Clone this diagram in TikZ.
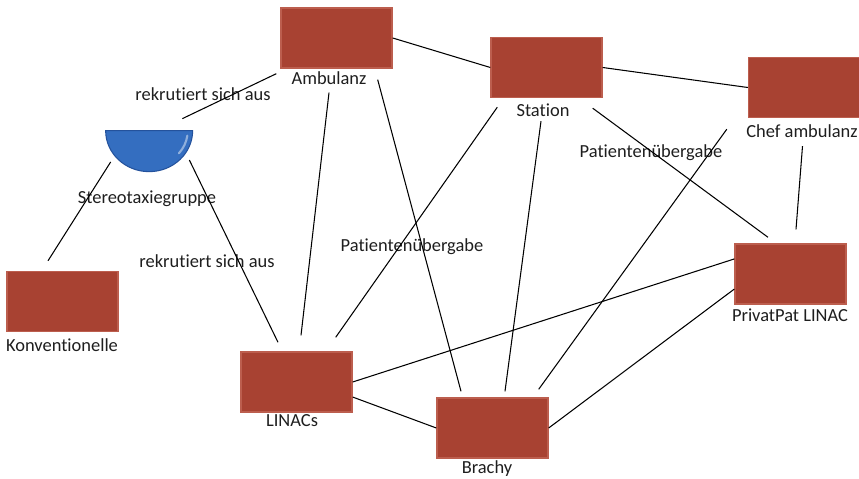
\documentclass[tikz,border=0pt]{standalone}
\usepackage{fontspec}
\setmainfont{Carlito}[Ligatures=NoCommon]
\usepackage{tikz}
\usetikzlibrary{calc}

\definecolor{boxred}{RGB}{168,66,50}
\definecolor{boxrim}{RGB}{188,94,78}
\definecolor{capblue}{RGB}{52,110,192}
\definecolor{caprim}{RGB}{36,82,156}
\definecolor{inkgray}{RGB}{30,30,30}

\begin{document}
\begin{tikzpicture}[
    x=0.02cm, y=-0.02cm,
    box/.style={
        rectangle,
        fill=boxred,
        draw=boxrim,
        line width=0.8pt,
        minimum width=2.22cm,
        minimum height=1.2cm,
        inner sep=0pt
    },
    lab/.style={
        anchor=base,
        inner sep=0pt,
        text=inkgray,
        font=\fontsize{10.5}{12}\selectfont
    },
    link/.style={
        line width=0.6pt,
        black
    }
]

    \useasboundingbox (0,0) rectangle (859,479);

    \node[box] (amb)  at (336.5,38)  {};
    \node[box] (sta)  at (546.5,67.5) {};
    \node[box] (chef) at (804,87.5)  {};
    \node[box] (konv) at (62.5,301.5) {};
    \node[box] (lin)  at (296.5,382) {};
    \node[box] (bra)  at (492.5,428) {};
    \node[box] (priv) at (790.5,274) {};

    \node[
        minimum width=1.74cm,
        minimum height=0.82cm,
        inner sep=0pt
    ] (ster) at (149.5,151.5) {};
    \fill[
        capblue,
        draw=caprim,
        line width=0.6pt
    ] (ster.north west) arc[start angle=180, end angle=360,
        x radius=0.87cm, y radius=0.82cm] -- cycle;
    \draw[
        white,
        opacity=0.45,
        line width=1.2pt,
        line cap=round
    ] ($(ster.north east)+(-6,5)$) arc[start angle=-8, end angle=-40,
        x radius=0.75cm, y radius=0.7cm];

    \node[lab] (ambl)  at (329,85)  {Ambulanz};
    \node[lab] (stal)  at (543,117) {Station};
    \node[lab] (chefl) at (802,138) {Chef ambulanz};
    \node[lab] (sterl) at (147,204) {Stereotaxiegruppe};
    \node[lab] (konvl) at (62,352)  {Konventionelle};
    \node[lab] (linl)  at (292,427) {LINACs};
    \node[lab] (bral)  at (487,474) {Brachy};
    \node[lab] (privl) at (790,322) {PrivatPat LINAC};

    \node[lab] (rek1) at (203,101) {rekrutiert sich aus};
    \node[lab] (rek2) at (207,268) {rekrutiert sich aus};
    \node[lab] (pat1) at (412,252) {Patientenübergabe};
    \node[lab] (pat2) at (651,158) {Patientenübergabe};

    \draw[link] (amb.east) -- (sta.west);
    \draw[link] (sta.east) -- (chef.west);
    \draw[link] ($(amb.south west)+(-4,5)$) -- ($(ster.north east)+(-11,-12)$);
    \draw[link] ($(amb.south)+(-7.5,24)$) -- ($(lin.north)+(4.5,-16)$);
    \draw[link] ($(amb.south east)+(-15,11)$) -- ($(bra.north)+(-31.5,-6)$);
    \draw[link] ($(sta.south west)+(7,9)$) -- ($(lin.north east)+(-17,-14)$);
    \draw[link] ($(sta.south)+(-5.5,23)$) -- ($(bra.north)+(12.5,-6)$);
    \draw[link] ($(sta.south east)+(-10,10)$) -- ($(priv.north)+(-22.5,-6)$);
    \draw[link] ($(chef.south west)+(-21,11)$) -- ($(bra.north east)+(-10,-8)$);
    \draw[link] ($(chef.south)+(-1.5,28)$) -- ($(priv.north)+(5.5,-14)$);
    \draw[link] ($(ster.west)+(5,10.5)$) -- ($(konv.north)+(-14.5,-10)$);
    \draw[link] ($(ster.east)+(-4,8.5)$) -- ($(lin.north)+(-18.5,-9)$);
    \draw[link] (lin.east) -- (priv.165);
    \draw[link] (lin.-15) -- (bra.west);
    \draw[link] (bra.east) -- (priv.195);

\end{tikzpicture}
\end{document}
